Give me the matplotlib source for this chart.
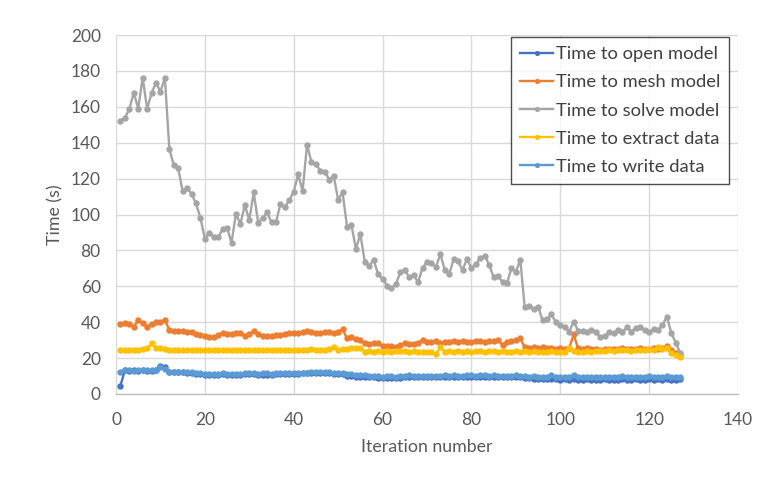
import matplotlib
matplotlib.use("Agg")
import matplotlib.pyplot as plt
import numpy as np

plt.rcParams['font.family'] = ['Lato', 'DejaVu Sans']

iterations = list(range(1, 128))

open_model = [4.6, 13.3, 12.9, 13.3, 12.9, 13.3, 13.0, 12.9, 13.3, 15.6,
              15.2, 12.4, 12.4, 12.0, 12.0, 11.9, 11.5, 11.0, 11.0, 10.6,
              10.6, 10.6, 10.6, 11.0, 10.6, 10.6, 10.6, 10.6, 11.0, 11.0,
              11.0, 10.6, 10.6, 10.6, 10.6, 11.0, 11.0, 11.0, 11.0, 11.0,
              11.0, 11.5, 11.5, 11.5, 11.5, 11.5, 11.5, 11.5, 11.0, 11.0,
              11.0, 10.2, 10.2, 9.7, 9.7, 9.7, 9.3, 9.3, 8.8, 8.8,
              8.8, 8.8, 8.8, 8.8, 9.3, 9.3, 9.3, 9.3, 9.3, 9.3,
              9.3, 9.3, 9.3, 9.3, 9.3, 9.7, 9.3, 9.3, 9.3, 9.3,
              9.3, 9.7, 9.3, 9.3, 9.3, 9.3, 9.3, 9.3, 9.3, 9.3,
              9.3, 8.8, 8.8, 8.4, 8.4, 8.4, 8.4, 8.4, 8.4, 7.9,
              8.4, 7.9, 8.4, 7.9, 7.9, 8.4, 7.9, 7.9, 7.9, 8.4,
              7.9, 7.9, 7.9, 8.4, 7.9, 7.9, 8.4, 7.9, 7.9, 8.4,
              7.9, 8.4, 7.9, 8.4, 7.9, 7.9, 8.4]

mesh_model = [39.0, 39.7, 38.9, 37.5, 41.2, 39.4, 37.5, 39.0, 39.9, 40.3,
              41.2, 35.7, 35.3, 35.1, 35.1, 34.8, 34.4, 33.2, 32.9, 32.3,
              31.9, 31.6, 32.9, 34.2, 33.2, 33.2, 33.8, 33.8, 32.5, 33.2,
              35.1, 33.2, 32.5, 32.2, 32.2, 33.1, 32.7, 33.6, 34.1, 34.1,
              33.8, 34.4, 35.1, 34.6, 34.1, 34.1, 34.6, 34.6, 34.1, 34.6,
              36.0, 31.0, 31.9, 30.4, 30.1, 28.2, 27.6, 28.2, 28.2, 26.9,
              26.9, 26.9, 26.4, 27.5, 28.2, 27.6, 27.9, 28.4, 30.1, 29.0,
              29.0, 29.3, 28.6, 29.0, 28.9, 29.3, 29.0, 29.3, 28.9, 29.2,
              29.6, 29.3, 29.0, 29.6, 29.3, 30.1, 27.5, 29.0, 29.6, 30.1,
              31.0, 26.0, 25.6, 26.2, 25.8, 26.2, 25.4, 25.8, 25.0, 25.4,
              25.0, 25.4, 33.2, 25.4, 25.0, 25.4, 25.0, 24.8, 24.5, 24.8,
              25.0, 24.8, 25.0, 25.4, 25.0, 24.8, 25.0, 25.4, 25.0, 25.0,
              25.4, 25.0, 25.4, 26.6, 24.5, 22.6, 21.8]

solve_model = [152.3, 154.0, 158.6, 167.9, 159.0, 176.2, 159.0, 167.5, 173.4, 168.4,
               176.2, 136.7, 127.4, 125.7, 113.1, 114.9, 111.4, 106.2, 98.2, 86.5,
               89.9, 87.5, 87.5, 91.7, 92.6, 84.3, 100.4, 94.7, 105.3, 96.9,
               112.3, 95.4, 97.9, 101.2, 95.6, 95.6, 105.7, 104.2, 107.9, 112.7,
               122.4, 113.0, 138.9, 129.1, 128.3, 124.1, 123.7, 119.4, 121.6, 108.1,
               112.3, 93.2, 94.1, 80.8, 89.1, 73.5, 71.5, 74.7, 66.7, 64.1,
               60.4, 58.9, 61.3, 67.8, 69.1, 65.0, 66.3, 62.2, 70.4, 73.4,
               72.8, 70.6, 78.0, 69.1, 66.7, 75.2, 73.9, 69.1, 75.2, 70.0,
               72.2, 75.6, 77.1, 71.9, 65.0, 65.9, 62.2, 61.7, 70.0, 68.1,
               74.7, 48.3, 49.0, 47.2, 48.6, 41.2, 41.6, 44.4, 39.9, 38.4,
               37.5, 34.7, 40.3, 35.3, 35.3, 34.7, 35.7, 34.4, 31.6, 32.3,
               34.4, 33.8, 35.7, 34.7, 37.1, 34.7, 36.6, 37.1, 35.7, 34.4,
               36.2, 35.7, 38.4, 43.1, 33.8, 28.6, 22.7]

extract_data = [24.5, 24.3, 24.3, 24.5, 24.3, 24.8, 25.4, 28.2, 25.4, 25.8,
                25.0, 24.5, 24.3, 24.3, 24.5, 24.3, 24.5, 24.3, 24.3, 24.3,
                24.3, 24.5, 24.3, 24.3, 24.3, 24.3, 24.3, 24.3, 24.3, 24.3,
                24.5, 24.3, 24.3, 24.5, 24.3, 24.5, 24.5, 24.3, 24.5, 24.3,
                24.5, 24.5, 24.3, 24.8, 24.5, 24.3, 24.5, 24.8, 26.4, 24.5,
                25.0, 24.8, 25.4, 25.4, 25.8, 23.6, 23.8, 23.6, 23.8, 23.6,
                23.8, 23.6, 23.8, 24.1, 23.8, 23.6, 23.8, 23.6, 23.3, 23.6,
                23.6, 22.1, 26.0, 23.6, 23.8, 23.6, 24.1, 23.6, 23.8, 23.6,
                24.1, 23.8, 23.6, 23.8, 24.1, 23.6, 23.8, 23.3, 23.6, 23.8,
                23.6, 23.8, 23.6, 24.1, 23.3, 23.6, 23.3, 23.8, 23.6, 23.3,
                23.6, 25.4, 23.8, 23.6, 23.3, 23.8, 23.6, 24.1, 23.8, 24.1,
                24.5, 24.1, 24.5, 24.3, 24.5, 24.1, 24.5, 24.3, 24.5, 24.8,
                24.5, 26.4, 25.0, 25.4, 22.6, 21.7, 20.8]

write_data = [12.4, 13.3, 13.3, 12.9, 13.3, 13.3, 13.3, 13.3, 13.3, 14.8,
              14.2, 12.4, 12.4, 12.4, 12.0, 12.0, 12.0, 11.5, 11.5, 11.0,
              11.0, 11.0, 11.0, 11.5, 11.0, 11.0, 11.0, 11.0, 11.5, 11.5,
              11.5, 11.0, 11.5, 11.5, 11.0, 11.5, 11.5, 11.5, 11.5, 11.5,
              11.9, 11.9, 11.9, 12.4, 12.0, 12.0, 12.0, 12.0, 11.9, 11.5,
              11.5, 11.0, 11.0, 10.6, 10.6, 10.6, 10.2, 10.2, 10.2, 9.7,
              10.2, 10.2, 9.7, 10.2, 10.2, 10.6, 10.2, 10.2, 10.2, 10.2,
              10.2, 10.2, 10.2, 10.6, 10.2, 10.6, 10.2, 10.2, 10.6, 10.6,
              10.2, 10.6, 10.6, 10.2, 10.6, 10.2, 10.2, 10.2, 10.2, 10.6,
              10.2, 10.2, 9.7, 10.2, 9.7, 9.7, 9.7, 10.6, 9.7, 9.7,
              9.7, 9.7, 10.6, 9.7, 9.7, 9.7, 9.7, 9.7, 9.7, 9.7,
              9.7, 9.7, 9.7, 10.2, 9.7, 9.7, 9.7, 9.7, 9.7, 10.2,
              9.7, 9.7, 9.7, 10.2, 9.7, 9.7, 9.7]

series = [
    ("Time to open model", open_model, "#4472C4"),
    ("Time to mesh model", mesh_model, "#ED7D31"),
    ("Time to solve model", solve_model, "#A5A5A5"),
    ("Time to extract data", extract_data, "#FFC000"),
    ("Time to write data", write_data, "#5B9BD5"),
]

fig = plt.figure(figsize=(7.63, 4.79), dpi=100)
ax = fig.add_axes([116/763, 1 - 394/479, (738-116)/763, (394-35)/479])

for label, vals, color in series:
    ax.plot(iterations, vals, color=color, lw=1.7, marker='o', ms=4.6,
            markeredgewidth=0, label=label)

ax.set_xlim(0, 140)
ax.set_ylim(0, 200)
ax.set_xticks(np.arange(0, 141, 20))
ax.set_yticks(np.arange(0, 201, 20))
ax.grid(True, color="#D9D9D9", lw=1)
ax.set_axisbelow(True)
for s in ["top", "right", "left"]:
    ax.spines[s].set_visible(False)
ax.spines["bottom"].set_color("#BFBFBF")
ax.spines["bottom"].set_linewidth(1)
ax.tick_params(axis='both', length=0, labelsize=12.5, labelcolor="#595959")
ax.tick_params(axis='x', pad=13)
ax.tick_params(axis='y', pad=11)

ax.set_xlabel("Iteration number", fontsize=12.8, color="#595959", labelpad=8)
ax.set_ylabel("Time (s)", fontsize=12.8, color="#595959", labelpad=5)

leg = ax.legend(loc='upper right', bbox_to_anchor=(0.986, 0.994),
                borderaxespad=0, fontsize=13.2, frameon=True, fancybox=False,
                labelspacing=0.66, handlelength=1.8, handletextpad=0.15,
                borderpad=0.5, markerscale=0.8)
leg.get_frame().set_edgecolor("#202020")
leg.get_frame().set_linewidth(1.0)
for t in leg.get_texts():
    t.set_color("#404040")

fig.savefig("out.png", dpi=100)
